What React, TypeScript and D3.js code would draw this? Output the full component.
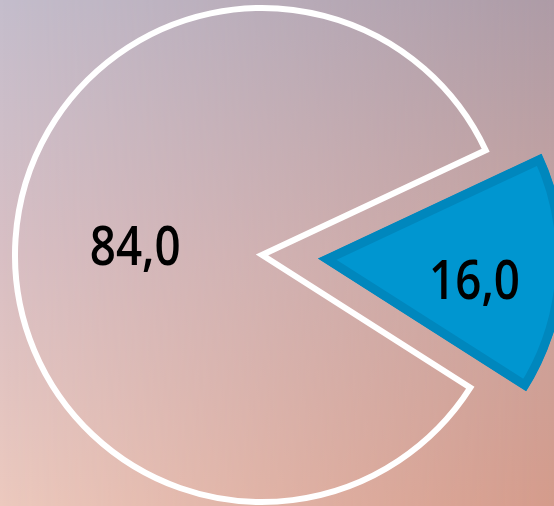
import React from "react";
import * as d3 from "d3";

const categories = ["A", "B"];
const values = [84, 16];
const labels = ["84,0", "16,0"];

const W = 554;
const H = 506;

export default function App() {
  const cx = 262;
  const cy = 255;
  const R = 247;
  const start = (122.5 * Math.PI) / 180;
  const pie = d3
    .pie<number>()
    .sort(null)
    .value((d) => d)
    .startAngle(start)
    .endAngle(start + 2 * Math.PI);
  const arcs = pie(values);
  const arc = d3.arc<d3.PieArcDatum<number>>().innerRadius(0).outerRadius(R);
  const explode = 56;
  const labelR = [127, 157];
  const labelDy = [-2, 10];

  return (
    <svg
      width={W}
      height={H}
      style={{ position: "fixed", left: 0, top: 0, display: "block" }}
    >
      <defs>
        <linearGradient id="gl" x1="0" y1="0" x2="0" y2="1">
          <stop offset="0" stopColor="#c4bdcc" />
          <stop offset="0.5" stopColor="#d8bfc4" />
          <stop offset="1" stopColor="#ecc9be" />
        </linearGradient>
        <linearGradient id="gr" x1="0" y1="0" x2="0" y2="1">
          <stop offset="0" stopColor="#ad9ba6" />
          <stop offset="0.5" stopColor="#c8a39f" />
          <stop offset="1" stopColor="#d49b8b" />
        </linearGradient>
        <linearGradient id="gm" x1="0" y1="0" x2="1" y2="0">
          <stop offset="0" stopColor="black" />
          <stop offset="1" stopColor="white" />
        </linearGradient>
        <mask id="mk" maskContentUnits="userSpaceOnUse">
          <rect x={0} y={0} width={W} height={H} fill="url(#gm)" />
        </mask>
      </defs>
      <rect x={0} y={0} width={W} height={H} fill="url(#gl)" />
      <rect x={0} y={0} width={W} height={H} fill="url(#gr)" mask="url(#mk)" />
      <g transform={`translate(${cx},${cy})`}>
        {arcs.map((a, i) => {
          const mid = (a.startAngle + a.endAngle) / 2;
          const off = i === 1 ? explode : 0;
          const ox = Math.sin(mid) * off;
          const oy = -Math.cos(mid) * off;
          const d = arc(a) as string;
          const lx = Math.sin(mid) * labelR[i];
          const ly = -Math.cos(mid) * labelR[i];
          return (
            <g key={categories[i]} transform={`translate(${ox},${oy})`}>
              {i === 1 ? (
                <>
                  <clipPath id="clipB">
                    <path d={d} />
                  </clipPath>
                  <path
                    d={d}
                    fill="#0096d0"
                    stroke="#0087bd"
                    strokeWidth={18}
                    clipPath="url(#clipB)"
                  />
                </>
              ) : (
                <path
                  d={d}
                  fill="none"
                  stroke="#ffffff"
                  strokeWidth={6}
                  strokeLinejoin="miter"
                />
              )}
              <text
                x={lx}
                y={ly + labelDy[i]}
                dy="0.36em"
                textAnchor="middle"
                fontFamily="'Open Sans', 'DejaVu Sans Condensed', sans-serif"
                fontWeight={600}
                fontSize={55}
                textLength={91}
                lengthAdjust="spacingAndGlyphs"
                fill="#000"
              >
                {labels[i]}
              </text>
            </g>
          );
        })}
      </g>
    </svg>
  );
}
